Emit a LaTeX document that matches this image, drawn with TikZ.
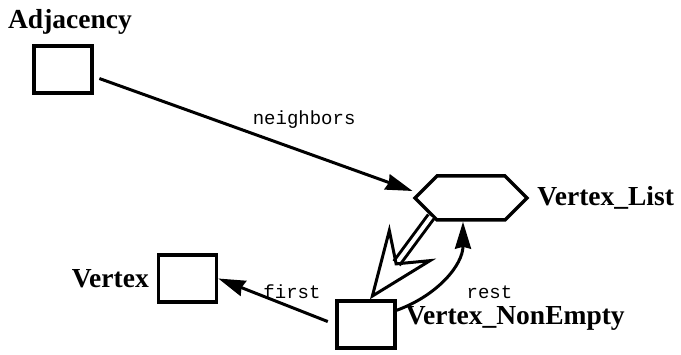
\documentclass[tikz,border=0pt]{standalone}
\usepackage{fontspec}
\setmainfont{Liberation Serif}
\setmonofont{Liberation Mono}
\usetikzlibrary{arrows.meta, positioning, shapes.symbols}

\tikzset{
  classbox/.style={draw, line width=3.5pt, minimum width=58pt, minimum height=47pt, inner sep=0pt},
  listbox/.style={draw, line width=3.5pt, signal, signal to=east and west, signal pointer angle=90,
                  minimum width=112pt, minimum height=44pt, inner sep=0pt},
  classname/.style={font=\fontsize{27.5}{27.5}\selectfont\bfseries, inner sep=0pt, outer sep=0pt},
  rolename/.style={font=\fontsize{19}{19}\selectfont\ttfamily, inner sep=0pt, outer sep=0pt},
}

\begin{document}
\begin{tikzpicture}[x=1pt, y=-1pt, >={Stealth[length=27pt, width=16pt, inset=2pt]}, line width=3pt]

\useasboundingbox (0,0) rectangle (681,355);

% Classes
\node[classbox] (adj) at (63,69.5) {};
\node[classname, above=10pt of adj, xshift=7pt] (adjname) {Adjacency};

\node[listbox] (list) at (471,198) {};
\node[classname, right=8pt of list] (listname) {Vertex\_List};

\node[classbox] (vtx) at (187.5,278.5) {};
\node[classname, left=8pt of vtx] (vtxname) {Vertex};

\node[classbox] (ne) at (366,324.5) {};
\node[classname, right=9pt of ne, yshift=6pt] (nename) {Vertex\_NonEmpty};

% Associations
\draw[->, shorten <=6pt] ([yshift=-7]adj.east) -- ([yshift=7]list.west)
  node[rolename, pos=0.66, above=24pt] {neighbors};
\draw[->, shorten <=8pt] (ne.west) -- (vtx.east)
  node[rolename, pos=0.37, above=9pt] {first};
\draw[->] ([yshift=-11]ne.north east) to[out=20, in=-90]
  node[rolename, pos=0.4, right=29pt, yshift=-7pt] {rest} ([xshift=-8]list.south);

% Generalisation
\draw[-{Stealth[open, length=72pt, width=58pt, inset=26pt]}, double, double distance=4pt, line width=3pt]
  (list.-155) -- ([xshift=4]ne.north);

\end{tikzpicture}
\end{document}
